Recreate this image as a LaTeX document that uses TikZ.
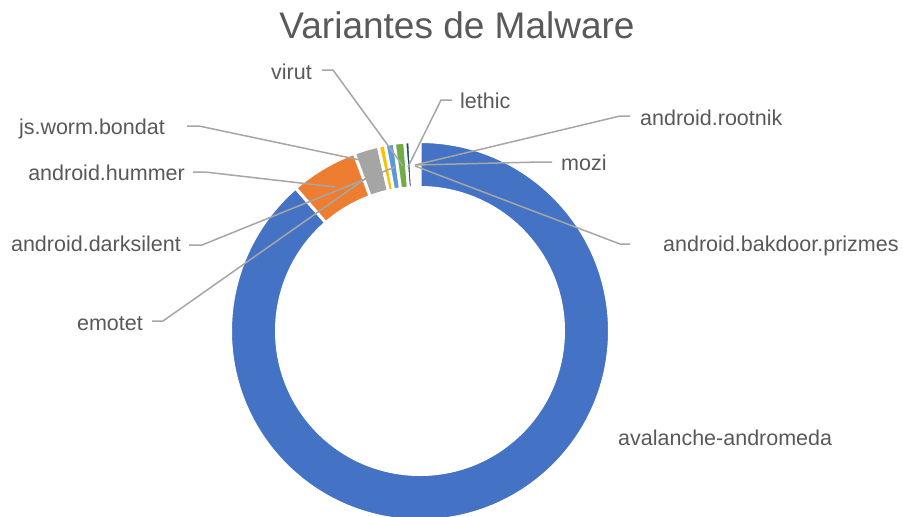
\documentclass[tikz,border=0pt]{standalone}
\usepackage{fontspec}
\setmainfont{Liberation Sans}
\definecolor{txtgray}{HTML}{595959}
\definecolor{leadgray}{HTML}{A6A6A6}
\definecolor{cBlue}{HTML}{4472C4}
\definecolor{cOrange}{HTML}{ED7D31}
\definecolor{cGray}{HTML}{A5A5A5}
\definecolor{cYellow}{HTML}{FFC000}
\definecolor{cLBlue}{HTML}{5B9BD5}
\definecolor{cGreen}{HTML}{70AD47}
\definecolor{cNavy}{HTML}{264478}
\definecolor{cBrown}{HTML}{9E480E}
\definecolor{cDGray}{HTML}{636363}
\definecolor{cOlive}{HTML}{997300}
\newcommand\donutseg[3]{%
  \filldraw[segstyle, fill=#3] (#1:189.5pt) arc[start angle=#1, end angle=#2, radius=189.5pt]
    -- (#2:143.5pt) arc[start angle=#2, end angle=#1, radius=143.5pt] -- cycle;}
\begin{document}
\begin{tikzpicture}[x=1pt,y=-1pt,
  lbl/.style={font=\fontsize{21.5}{25}\selectfont, text=txtgray, inner sep=0pt},
  leader/.style={draw=leadgray, line width=1.5pt, line join=miter},
  segstyle/.style={draw=white, line width=3pt, line join=miter}]
\useasboundingbox (0,0) rectangle (903,517);
\fill[white] (0,0) rectangle (903,517);

% title
\node[font=\fontsize{37}{42}\selectfont, text=txtgray, inner sep=0pt, anchor=base] (title) at (457,38) {Variantes de Malware};

% donut
\begin{scope}[shift={(420,331)}]
  \donutseg{90}{-229}{cBlue}
  \donutseg{131}{110.3}{cOrange}
  \donutseg{110.3}{102.7}{cGray}
  \donutseg{102.7}{100.6}{cYellow}
  \donutseg{100.6}{97.8}{cLBlue}
  \donutseg{97.8}{94.6}{cGreen}
  \donutseg{94.6}{93.1}{cNavy}
  \donutseg{92.2}{92.1}{cBrown}
  \donutseg{91.3}{91.2}{cDGray}
  \donutseg{90.4}{90.3}{cOlive}
\end{scope}

% labels
\node[lbl, anchor=base east] (l-virut) at (312,79) {virut};
\node[lbl, anchor=base east] (l-js) at (165,134) {js.worm.bondat};
\node[lbl, anchor=base east] (l-hummer) at (185,180) {android.hummer};
\node[lbl, anchor=base east] (l-dark) at (181,251) {android.darksilent};
\node[lbl, anchor=base east] (l-emotet) at (143,330) {emotet};
\node[lbl, anchor=base west] (l-lethic) at (460,108) {lethic};
\node[lbl, anchor=base west] (l-rootnik) at (640,125) {android.rootnik};
\node[lbl, anchor=base west] (l-mozi) at (561,170) {mozi};
\node[lbl, anchor=base west] (l-prizmes) at (663,251) {android.bakdoor.prizmes};
\node[lbl, anchor=base west] (l-aval) at (618,445) {avalanche-andromeda};

% leader coordinates
\coordinate (s-virut) at (322,70);   \coordinate (k-virut) at (333,70);   \coordinate (e-virut) at (403,166);
\coordinate (s-js) at (187,126);     \coordinate (k-js) at (199,126);     \coordinate (e-js) at (360,160);
\coordinate (s-hummer) at (193,172); \coordinate (k-hummer) at (205,172); \coordinate (e-hummer) at (335,187);
\coordinate (s-dark) at (189,245);   \coordinate (k-dark) at (202,245);   \coordinate (e-dark) at (395,167);
\coordinate (s-emotet) at (152,321); \coordinate (k-emotet) at (163,321); \coordinate (e-emotet) at (365,179);
\coordinate (s-lethic) at (452,100); \coordinate (k-lethic) at (441,100); \coordinate (e-lethic) at (408,167);
\coordinate (s-rootnik) at (630,116);\coordinate (k-rootnik) at (620,116);\coordinate (e-rootnik) at (415,165);
\coordinate (s-mozi) at (552,162);   \coordinate (k-mozi) at (540,162);   \coordinate (e-mozi) at (415,165);
\coordinate (s-prizmes) at (630,244);\coordinate (k-prizmes) at (620,244);\coordinate (e-prizmes) at (415,166);

\foreach \n in {virut,js,hummer,dark,emotet,lethic,rootnik,mozi,prizmes}
  \draw[leader] (s-\n) -- (k-\n) -- (e-\n);
\end{tikzpicture}
\end{document}
